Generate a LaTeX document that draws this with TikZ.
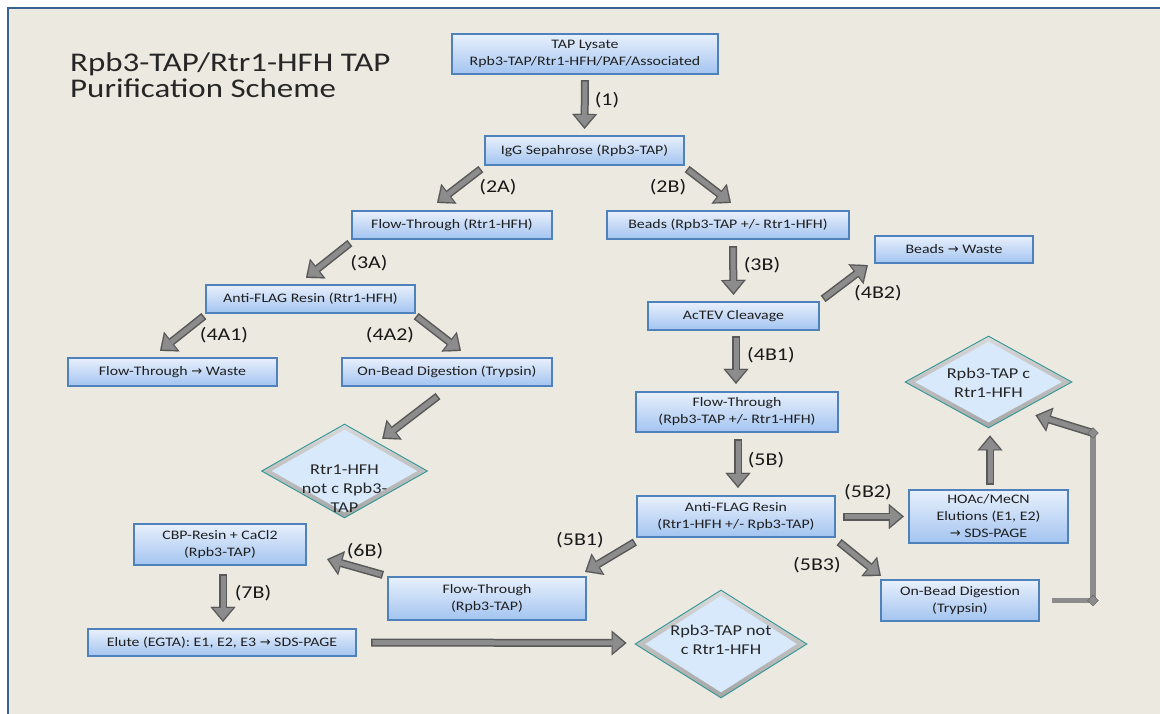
\documentclass[tikz,border=0pt]{standalone}
\usepackage{fontspec}
\setmainfont{Carlito}[FakeStretch=1.22]
\newfontfamily\symfont{DejaVu Sans}
\usetikzlibrary{arrows.meta, calc, shapes.geometric}

\definecolor{pagebg}{RGB}{236,234,224}
\definecolor{frameblue}{RGB}{56,98,148}
\definecolor{boxedge}{RGB}{79,129,189}
\definecolor{boxtop}{RGB}{232,240,252}
\definecolor{boxbottom}{RGB}{163,196,240}
\definecolor{diamfill}{RGB}{216,233,251}
\definecolor{diamedge}{RGB}{48,150,150}
\definecolor{arrowedge}{RGB}{88,88,88}
\definecolor{arrowfill}{RGB}{140,140,140}

\newcommand{\toarrow}{{\symfont →}}
\newcommand{\diamlines}[2]{\raisebox{#1}[0pt][0pt]{\begin{tabular}{@{}c@{}}#2\end{tabular}}}

\begin{document}
\begin{tikzpicture}[x=1pt, y=-1pt,
    stepbox/.style={draw=boxedge, line width=2.2pt, top color=boxtop, bottom color=boxbottom,
        align=center, inner sep=1pt, font=\fontsize{13}{17}\selectfont, text=black!88},
    box/.style 2 args={stepbox, minimum width=#1, minimum height=#2},
    result/.style={diamond, draw=diamedge, line width=0.9pt, inner sep=0pt,
        top color=gray!30, bottom color=gray!70, text=black!85,
        font=\fontsize{15}{19}\selectfont,
        path picture={\fill[diamfill]
            ($(path picture bounding box.north)+(0,-5.5pt)$) --
            ($(path picture bounding box.east)+(-10pt,0)$) --
            ($(path picture bounding box.south)+(0,5.5pt)$) --
            ($(path picture bounding box.west)+(10pt,0)$) -- cycle;}},
    steplabel/.style={font=\fontsize{18}{20}\selectfont, inner sep=0pt, text=black!90},
    title/.style={font=\fontsize{27}{26}\selectfont, inner sep=0pt, text=black!85},
    blockarrow/.style={draw=arrowedge, line width=8pt,
        -{Triangle[length=15pt, width=25pt, line width=0.1pt]},
        postaction={draw=arrowfill, line width=5pt,
            -{Triangle[length=11.5pt, width=19.5pt, line width=0.1pt]},
            shorten >=2.3pt, shorten <=1.5pt}},
    feedline/.style={draw=arrowfill, line width=5.5pt},
    joint/.style={diamond, fill=arrowfill, draw=arrowedge, line width=0.4pt,
        inner sep=0pt, minimum size=11pt}]

    \useasboundingbox (0,0) rectangle (1160,713);
    \fill[white] (0,0) rectangle (1160,713);
    \draw[frameblue, line width=2pt, fill=pagebg] (8,8) rectangle (1166,719);

    \node[title, anchor=base west] (title) at (70,71) {Rpb3-TAP/Rtr1-HFH TAP};
    \node[title, anchor=base west] (subtitle) at (70,97) {Purification Scheme};

    \node[box={266pt}{40pt}] (lysate) at (585,54) {TAP Lysate\\Rpb3-TAP/Rtr1-HFH/PAF/Associated};
    \node[box={199pt}{29pt}] (igg) at (584.5,150.5) {IgG Sepahrose (Rpb3-TAP)};
    \node[box={200pt}{28pt}] (ftA) at (452,225) {Flow-Through (Rtr1-HFH)};
    \node[box={242pt}{28pt}] (beads) at (728,225) {Beads (Rpb3-TAP +/- Rtr1-HFH)};
    \node[box={209pt}{28pt}] (resinA) at (310.5,299) {Anti-FLAG Resin (Rtr1-HFH)};
    \node[box={171pt}{28pt}] (acTEV) at (733.5,316) {AcTEV Cleavage};
    \node[box={158pt}{27pt}] (waste2) at (954,249.5) {Beads \toarrow{} Waste};
    \node[box={209pt}{28pt}] (waste1) at (172.5,372) {Flow-Through \toarrow{} Waste};
    \node[box={210pt}{28pt}] (digestA) at (447,372) {On-Bead Digestion (Trypsin)};
    \node[box={202pt}{40pt}] (ftB) at (737,412) {Flow-Through\\(Rpb3-TAP +/- Rtr1-HFH)};
    \node[box={198pt}{41pt}] (resinB) at (736,516.5) {Anti-FLAG Resin\\(Rtr1-HFH +/- Rpb3-TAP)};
    \node[box={159pt}{53pt}] (hoac) at (988.5,516.5) {HOAc/MeCN\\Elutions (E1, E2)\\\toarrow{} SDS-PAGE};
    \node[box={158pt}{41pt}] (digestB) at (960,600.5) {On-Bead Digestion\\(Trypsin)};
    \node[box={198pt}{43pt}] (ftC) at (487,598.5) {Flow-Through\\(Rpb3-TAP)};
    \node[box={172pt}{41pt}] (cbp) at (220,544.5) {CBP-Resin + CaCl2\\(Rpb3-TAP)};
    \node[box={268pt}{27pt}] (elute) at (222,642.5) {Elute (EGTA): E1, E2, E3 \toarrow{} SDS-PAGE};

    \node[result, minimum width=166pt, minimum height=94pt] (diamA) at (344.5,471)
        {\diamlines{-22pt}{Rtr1-HFH\\not c Rpb3-\\TAP}};
    \node[result, minimum width=167pt, minimum height=92pt] (diamB) at (988.5,382)
        {\diamlines{-6pt}{Rpb3-TAP c\\Rtr1-HFH}};
    \node[result, minimum width=172pt, minimum height=108pt] (diamC) at (721,644)
        {\diamlines{-1pt}{Rpb3-TAP not\\c Rtr1-HFH}};

    \node[steplabel] (s1) at (607,100) {(1)};
    \node[steplabel] (s2A) at (498,187) {(2A)};
    \node[steplabel] (s2B) at (668,187) {(2B)};
    \node[steplabel] (s3A) at (369,263) {(3A)};
    \node[steplabel] (s3B) at (762,265) {(3B)};
    \node[steplabel] (s4A1) at (224,335) {(4A1)};
    \node[steplabel] (s4A2) at (390,335) {(4A2)};
    \node[steplabel] (s4B1) at (771,355) {(4B1)};
    \node[steplabel] (s4B2) at (878,293) {(4B2)};
    \node[steplabel] (s5B) at (766,460) {(5B)};
    \node[steplabel] (s5B1) at (580,540) {(5B1)};
    \node[steplabel] (s5B2) at (868,492) {(5B2)};
    \node[steplabel] (s5B3) at (817,565) {(5B3)};
    \node[steplabel] (s6B) at (365,551) {(6B)};
    \node[steplabel] (s7B) at (253,593) {(7B)};

    \draw[blockarrow] ($(lysate.south)+(0,5)$) -- ($(igg.north)+(0,-6)$);
    \draw[blockarrow] ($(igg.south west)+(-3,3)$) -- ($(ftA.north)+(-15,-7)$);
    \draw[blockarrow] ($(igg.south east)+(2,3)$) -- ($(beads.north)+(3,-7)$);
    \draw[blockarrow] ($(ftA.south west)+(-1,3)$) -- ($(resinA.north)+(-4.5,-6)$);
    \draw[blockarrow] ($(beads.south)+(5,6)$) -- ($(acTEV.north)+(0,-6)$);
    \draw[blockarrow] ($(resinA.south west)+(-1,2)$) -- ($(waste1.north)+(-12.5,-6)$);
    \draw[blockarrow] ($(resinA.south east)+(0,2)$) -- ($(digestA.north)+(14,-6)$);
    \draw[blockarrow] ($(acTEV.south)+(2.5,5)$) -- ($(ftB.north)+(-1,-7)$);
    \draw[blockarrow] ($(acTEV.north east)+(3,-2)$) -- ($(waste2.south west)+(-6,1)$);
    \draw[blockarrow] ($(digestA.south)+(-9,9)$) -- ($(diamA.north east)+(-4,-8.5)$);
    \draw[blockarrow] ($(ftB.south)+(1,6)$) -- ($(resinB.north)+(2,-7)$);
    \draw[blockarrow] ($(resinB.south west)+(-1,4)$) -- ($(ftC.north east)+(-2,-4)$);
    \draw[blockarrow] ($(resinB.east)+(7,0)$) -- ($(hoac.west)+(-4,0)$);
    \draw[blockarrow] ($(resinB.south east)+(3,4)$) -- ($(digestB.north west)+(1,-3)$);
    \draw[blockarrow] ($(hoac.north)+(1.5,-4)$) -- ($(diamB.south)+(1.5,7)$);
    \draw[blockarrow] ($(ftC.north west)+(-4,-1)$) -- ($(cbp.south east)+(20,-7)$);
    \draw[blockarrow] ($(cbp.south)+(3,8)$) -- ($(elute.north)+(1,-6)$);
    \draw[blockarrow] ($(elute.east)+(14,0)$) -- ($(diamC.west)+(-8,-1)$);

    \coordinate (bend) at (1093,433);
    \draw[feedline] ($(digestB.east)+(12,0)$) -- (digestB.east -| bend) -- (bend);
    \draw[blockarrow] (bend) -- ($(diamB.south east)+(5,10)$);
    \node[joint] (jointlow) at (digestB.east -| bend) {};
    \node[joint] (jointhigh) at (bend) {};
\end{tikzpicture}
\end{document}
